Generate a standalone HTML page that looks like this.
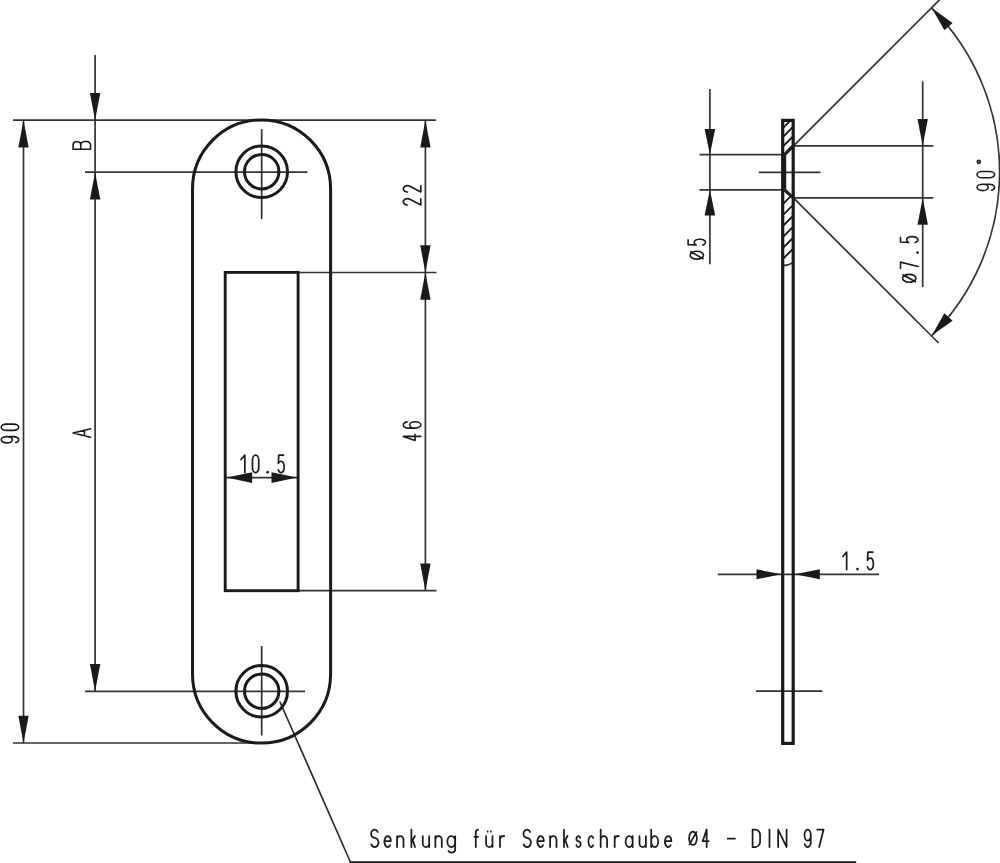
<!DOCTYPE html>
<html><head><meta charset="utf-8"><title>Drawing</title>
<style>html,body{margin:0;padding:0;background:#fff;font-family:"Liberation Sans",sans-serif}svg{display:block}</style>
</head><body>
<svg width="1000" height="863" viewBox="0 0 1000 863">
<rect width="1000" height="863" fill="#fff"/>
<defs>
<clipPath id="hc"><path d="M782.7,120 H793.2 V145.8 L785.2,154.6 H782.7 Z M782.7,189.8 H785.2 L793.2,197.9 V263 L782.7,265.6 Z"/></clipPath>
</defs>
<!-- thin lines -->
<g fill="none" stroke="#333" stroke-width="1.7" stroke-linecap="butt">
<!-- extension lines front view -->
<path d="M13,120.2 H436"/>
<path d="M85,172.2 H307.5"/>
<path d="M261.7,129.1 V219"/>
<path d="M85,691.3 H305"/>
<path d="M261.7,646 V735.5"/>
<path d="M13,743 H252"/>
<path d="M298,272.5 H436.5"/>
<path d="M298,590.7 H436.5"/>
<!-- dim lines -->
<path d="M23.5,120.2 V743"/>
<path d="M95.1,55 V691.3"/>
<path d="M425.4,120.2 V590.7"/>
<path d="M226,477.6 H297.5"/>
<!-- leader -->
<path d="M279.8,701.5 L350.4,862" stroke="#2c2c2c"/>
<path d="M349.8,862.1 H856.2" stroke="#161616" stroke-width="1.9"/>
<!-- side view -->
<path d="M758.8,172.3 H820.5"/>
<path d="M756,691.2 H822.5"/>
<path d="M699.5,154.6 H783"/>
<path d="M699.5,189.8 H783"/>
<path d="M709.9,89 V264.2"/>
<path d="M793.5,145.8 H933.3"/>
<path d="M793.5,197.9 H933.3"/>
<path d="M922.7,81.3 V287"/>
<path d="M793.5,145.8 L940,-0.7"/>
<path d="M793.5,197.9 L938.6,343"/>
<path d="M931.77,8.03 A231.6,231.6 0 0 1 931.77,335.57"/>
<path d="M717.8,574.3 H879"/>
<path d="M782.7,265.6 Q788,265.4 793.2,262.8" stroke-width="1.8"/>
</g>
<!-- hatch -->
<g clip-path="url(#hc)" fill="none" stroke="#1a1a1a" stroke-width="1.9"><path d="M781,130 L795,116M781,138.9 L795,124.9M781,148.3 L795,134.3M781,206 L795,192M781,217 L795,203M781,227.9 L795,213.9M781,238.9 L795,224.9M781,249.8 L795,235.8M781,260.8 L795,246.8"/></g>
<!-- thick outlines -->
<g fill="none" stroke="#1a1a1a" stroke-width="3" stroke-linejoin="round">
<rect x="192.5" y="119.9" width="138.1" height="623.2" rx="69.05" ry="69.05"/>
<rect x="225.2" y="272.4" width="72.9" height="318.3" stroke-linejoin="miter" stroke-width="2.9"/>
<circle cx="261.7" cy="171.7" r="25.8"/>
<circle cx="261.7" cy="171.7" r="17.2"/>
<circle cx="261.7" cy="691.2" r="25.8"/>
<circle cx="261.7" cy="691.2" r="17.2"/>
<!-- side view -->
<path d="M782.7,120.4 H793.2 V743.3 H782.7 Z" stroke-linejoin="miter" stroke-width="3.2"/>
<path d="M793.2,145.8 L784.5,154.6 M793.2,197.9 L784.5,189.8" stroke-width="3.2"/>
<path d="M784.2,154.6 V189.8" stroke-width="4"/>
</g>
<g fill="#1a1a1a" stroke="none">
<polygon points="95.1,120.2 89.9,92.9 100.3,92.9"/>
<polygon points="95.1,172.2 100.3,199.5 89.9,199.5"/>
<polygon points="95.1,691.3 89.9,664 100.3,664"/>
<polygon points="23.5,120.2 28.7,147.5 18.3,147.5"/>
<polygon points="23.5,743 18.3,715.7 28.7,715.7"/>
<polygon points="425.4,120.2 430.6,147.5 420.2,147.5"/>
<polygon points="425.4,272.5 420.2,245.2 430.6,245.2"/>
<polygon points="425.4,272.5 430.6,299.8 420.2,299.8"/>
<polygon points="425.4,590.7 420.2,563.4 430.6,563.4"/>
<polygon points="226.6,477.6 252.1,472.3 252.1,482.9"/>
<polygon points="297,477.6 271.5,482.9 271.5,472.3"/>
<polygon points="709.9,154.6 704.6,129 715.2,129"/>
<polygon points="709.9,189.8 715.2,215.4 704.6,215.4"/>
<polygon points="922.7,145.8 917.5,119 927.9,119"/>
<polygon points="922.7,197.9 927.9,224.7 917.5,224.7"/>
<polygon points="781.5,574.3 756.5,579.3 756.5,569.3"/>
<polygon points="794.8,574.3 819.8,569.3 819.8,579.3"/>
<polygon points="931.77,8.03 952.56,22.97 944.37,30.31"/>
<polygon points="931.77,335.57 944.37,313.29 952.56,320.63"/>
</g>
<g fill="none" stroke="#1a1a1a" stroke-width="1.75" stroke-linecap="round" stroke-linejoin="round">
<path transform="translate(370.98,847.02) scale(1,-1)" d="M6.77,15.02C6.21,16.49 5.02,17.45 3.7,17.5C2.38,17.55 1.15,16.67 0.52,15.24C-0.11,13.81 -0.03,12.07 0.73,10.73C2.03,8.73 5.02,9.46 6.62,7.56C7.56,6.19 7.76,4.28 7.15,2.66C6.53,1.04 5.21,0 3.75,0C2.29,0 0.97,1.04 0.35,2.66"/>
<path transform="translate(384.48,847.02) scale(1,-1)" d="M0,5.9L6.4,5.9C6.32,8.43 5.15,10.59 3.63,10.95C2.11,11.31 0.65,9.75 0.17,7.25C-0.32,4.74 0.3,1.99 1.64,0.7C2.98,-0.59 4.66,-0.06 5.65,1.96"/>
<path transform="translate(397.07,847.02) scale(1,-1)" d="M0,0L0,11M0,7.4C0,9.39 1.43,11 3.2,11C4.97,11 6.4,9.39 6.4,7.4L6.4,0"/>
<path transform="translate(411.38,847.02) scale(1,-1)" d="M0,0L0,17.5M0,4.4L3.5,11M1.4,6.6L3.7,0"/>
<path transform="translate(422.77,847.02) scale(1,-1)" d="M0,11L0,3.6C0,1.61 1.43,0 3.2,0C4.97,0 6.4,1.61 6.4,3.6M6.4,11L6.4,0"/>
<path transform="translate(435.38,847.02) scale(1,-1)" d="M0,0L0,11M0,7.4C0,9.39 1.43,11 3.2,11C4.97,11 6.4,9.39 6.4,7.4L6.4,0"/>
<path transform="translate(447.38,847.02) scale(1,-1)" d="M7.8,5.5C7.8,8.54 6.05,11 3.9,11C1.75,11 0,8.54 0,5.5C0,2.46 1.75,0 3.9,0C6.05,0 7.8,2.46 7.8,5.5ZM7.8,11L7.8,-2.4C7.8,-3.8 6.71,-5.03 5.13,-5.39C3.56,-5.76 1.9,-5.17 1.08,-3.95"/>
<path transform="translate(474.48,847.02) scale(1,-1)" d="M1.3,0L1.3,14.7C1.3,16.06 2.28,17.22 3.61,17.46M0,10.2L3.7,10.2"/>
<path transform="translate(486.07,847.02) scale(1,-1)" d="M0,11L0,3.6C0,1.61 1.43,0 3.2,0C4.97,0 6.4,1.61 6.4,3.6M6.4,11L6.4,0M1.6,15.3L1.6,15.6M4.8,15.3L4.8,15.6"/>
<path transform="translate(499.98,847.02) scale(1,-1)" d="M0,0L0,11M0,7.4C0,8.52 0.49,9.57 1.33,10.26C2.17,10.94 3.26,11.17 4.28,10.88"/>
<path transform="translate(523.38,847.02) scale(1,-1)" d="M6.77,15.02C6.21,16.49 5.02,17.45 3.7,17.5C2.38,17.55 1.15,16.67 0.52,15.24C-0.11,13.81 -0.03,12.07 0.73,10.73C2.03,8.73 5.02,9.46 6.62,7.56C7.56,6.19 7.76,4.28 7.15,2.66C6.53,1.04 5.21,0 3.75,0C2.29,0 0.97,1.04 0.35,2.66"/>
<path transform="translate(537.38,847.02) scale(1,-1)" d="M0,5.9L6.4,5.9C6.32,8.43 5.15,10.59 3.63,10.95C2.11,11.31 0.65,9.75 0.17,7.25C-0.32,4.74 0.3,1.99 1.64,0.7C2.98,-0.59 4.66,-0.06 5.65,1.96"/>
<path transform="translate(550.08,847.02) scale(1,-1)" d="M0,0L0,11M0,7.4C0,9.39 1.43,11 3.2,11C4.97,11 6.4,9.39 6.4,7.4L6.4,0"/>
<path transform="translate(563.98,847.02) scale(1,-1)" d="M0,0L0,17.5M0,4.4L3.5,11M1.4,6.6L3.7,0"/>
<path transform="translate(576.27,847.02) scale(1,-1)" d="M3.98,9.19C3.71,10.19 3.05,10.9 2.27,10.99C1.5,11.08 0.76,10.55 0.37,9.62C-0.02,8.7 0.02,7.55 0.46,6.67C1.26,5.47 2.99,5.78 3.89,4.68C4.45,3.81 4.56,2.59 4.17,1.57C3.77,0.55 2.95,-0.06 2.07,0C1.2,0.07 0.43,0.81 0.13,1.88"/>
<path transform="translate(588.38,847.02) scale(1,-1)" d="M4.88,9.18C4.11,10.87 2.88,11.45 1.8,10.63C0.71,9.82 0,7.78 0,5.5C0,3.22 0.71,1.18 1.8,0.37C2.88,-0.45 4.11,0.13 4.88,1.82"/>
<path transform="translate(600.67,847.02) scale(1,-1)" d="M0,0L0,17.5M0,7.4C0,9.39 1.43,11 3.2,11C4.97,11 6.4,9.39 6.4,7.4L6.4,0"/>
<path transform="translate(614.67,847.02) scale(1,-1)" d="M0,0L0,11M0,7.4C0,8.52 0.49,9.57 1.33,10.26C2.17,10.94 3.26,11.17 4.28,10.88"/>
<path transform="translate(625.67,847.02) scale(1,-1)" d="M7,5.5C7,8.54 5.43,11 3.5,11C1.57,11 0,8.54 0,5.5C0,2.46 1.57,0 3.5,0C5.43,0 7,2.46 7,5.5ZM7,11L7,0"/>
<path transform="translate(639.48,847.02) scale(1,-1)" d="M0,11L0,3.6C0,1.61 1.43,0 3.2,0C4.97,0 6.4,1.61 6.4,3.6M6.4,11L6.4,0"/>
<path transform="translate(651.17,847.02) scale(1,-1)" d="M0,5.5C0,8.54 1.57,11 3.5,11C5.43,11 7,8.54 7,5.5C7,2.46 5.43,0 3.5,0C1.57,0 0,2.46 0,5.5ZM0,17.5L0,0"/>
<path transform="translate(664.98,847.02) scale(1,-1)" d="M0,5.9L6.4,5.9C6.32,8.43 5.15,10.59 3.63,10.95C2.11,11.31 0.65,9.75 0.17,7.25C-0.32,4.74 0.3,1.99 1.64,0.7C2.98,-0.59 4.66,-0.06 5.65,1.96"/>
<path transform="translate(689.08,847.02) scale(1,-1)" d="M7.8,8.75C7.8,12.45 6.05,15.45 3.9,15.45C1.75,15.45 0,12.45 0,8.75C0,5.05 1.75,2.05 3.9,2.05C6.05,2.05 7.8,5.05 7.8,8.75ZM0.4,2.6L7.4,14.9"/>
<path transform="translate(702.67,847.02) scale(1,-1)" d="M6,5.8L0,5.8L4,17.5L4,0"/>
<path transform="translate(727.67,847.02) scale(1,-1)" d="M0,8.3L7.2,8.3"/>
<path transform="translate(752.58,847.02) scale(1,-1)" d="M0,0L0,17.5L2.6,17.5C5.31,17.5 7.5,15.17 7.5,12.3L7.5,5.2C7.5,2.33 5.31,0 2.6,0L0,0"/>
<path transform="translate(769.48,847.02) scale(1,-1)" d="M0,0L0,17.5"/>
<path transform="translate(778.17,847.02) scale(1,-1)" d="M0,0L0,17.5L8.4,0L8.4,17.5"/>
<path transform="translate(804.48,847.02) scale(1,-1)" d="M6.3,11.9C6.3,14.99 4.89,17.5 3.15,17.5C1.41,17.5 0,14.99 0,11.9C0,8.81 1.41,6.3 3.15,6.3C4.89,6.3 6.3,8.81 6.3,11.9ZM6.3,11.9L6.3,5C6.3,2.66 5.27,0.63 3.83,0.12C2.39,-0.39 0.92,0.76 0.3,2.89"/>
<path transform="translate(817.27,847.02) scale(1,-1)" d="M0,17.5L6.3,17.5L1.9,0"/>
</g>
<g fill="none" stroke="#1a1a1a" stroke-width="1.7" stroke-linecap="round" stroke-linejoin="round">
<path transform="translate(241.05,472.65) scale(1,-1)" d="M0,13.1L3.8,17.5L3.8,0"/>
<path transform="translate(252.45,472.65) scale(1,-1)" d="M0,5.2L0,12.3C0,15.17 1.41,17.5 3.15,17.5C4.89,17.5 6.3,15.17 6.3,12.3L6.3,5.2C6.3,2.33 4.89,0 3.15,0C1.41,0 0,2.33 0,5.2Z"/>
<circle cx="267.6" cy="472.15" r="1.35" fill="#1a1a1a" stroke="none"/>
<path transform="translate(277.85,472.65) scale(1,-1)" d="M5.7,17.5L0.9,17.5L0.5,9.3C0.9,10.6 2,11.4 3.15,11.4C4.68,11.4 5.99,9.41 6.25,6.69C6.52,3.97 5.66,1.29 4.23,0.34C2.79,-0.6 1.19,0.45 0.42,2.85"/>
<path transform="translate(842.85,569.55) scale(1,-1)" d="M0,13.1L3.8,17.5L3.8,0"/>
<circle cx="857.5" cy="569.05" r="1.35" fill="#1a1a1a" stroke="none"/>
<path transform="translate(867.05,569.55) scale(1,-1)" d="M5.7,17.5L0.9,17.5L0.5,9.3C0.9,10.6 2,11.4 3.15,11.4C4.68,11.4 5.99,9.41 6.25,6.69C6.52,3.97 5.66,1.29 4.23,0.34C2.79,-0.6 1.19,0.45 0.42,2.85"/>
</g>
<g fill="none" stroke="#1a1a1a" stroke-width="1.6" stroke-linecap="round" stroke-linejoin="round">
<path transform="translate(18.7,442.9) rotate(-90) scale(1,-1)" d="M6.3,11.9C6.3,14.99 4.89,17.5 3.15,17.5C1.41,17.5 0,14.99 0,11.9C0,8.81 1.41,6.3 3.15,6.3C4.89,6.3 6.3,8.81 6.3,11.9ZM6.3,11.9L6.3,5C6.3,2.66 5.27,0.63 3.83,0.12C2.39,-0.39 0.92,0.76 0.3,2.89"/>
<path transform="translate(18.7,430.4) rotate(-90) scale(1,-1)" d="M0,5.2L0,12.3C0,15.17 1.41,17.5 3.15,17.5C4.89,17.5 6.3,15.17 6.3,12.3L6.3,5.2C6.3,2.33 4.89,0 3.15,0C1.41,0 0,2.33 0,5.2Z"/>
<path transform="translate(90.6,437.2) rotate(-90) scale(1,-1)" d="M0,0L4.25,17.5L8.5,0M1.5,6.15L7,6.15"/>
<path transform="translate(90.6,149.2) rotate(-90) scale(1,-1)" d="M0,0L0,17.5L4.2,17.5C5.97,17.5 7.4,16.07 7.4,14.3L7.4,13.05C7.4,11.28 5.97,9.85 4.2,9.85L0,9.85M4.2,9.85L4,9.85C6.04,9.85 7.7,8.19 7.7,6.15L7.7,3.7C7.7,1.66 6.04,0 4,0L0,0"/>
<path transform="translate(420.85,205) rotate(-90) scale(1,-1)" d="M0,13.45C0.05,15.24 0.94,16.79 2.23,17.32C3.51,17.84 4.91,17.22 5.7,15.77C6.49,14.32 6.5,12.36 5.73,10.89L0,0L6.3,0"/>
<path transform="translate(420.85,192) rotate(-90) scale(1,-1)" d="M0,13.45C0.05,15.24 0.94,16.79 2.23,17.32C3.51,17.84 4.91,17.22 5.7,15.77C6.49,14.32 6.5,12.36 5.73,10.89L0,0L6.3,0"/>
<path transform="translate(420.85,440.4) rotate(-90) scale(1,-1)" d="M6,5.8L0,5.8L4,17.5L4,0"/>
<path transform="translate(420.85,428.1) rotate(-90) scale(1,-1)" d="M0,5.6C0,8.69 1.41,11.2 3.15,11.2C4.89,11.2 6.3,8.69 6.3,5.6C6.3,2.51 4.89,0 3.15,0C1.41,0 0,2.51 0,5.6ZM0,5.6L0,12.5C0,15.01 1.17,17.13 2.74,17.46C4.31,17.78 5.78,16.22 6.19,13.79"/>
<path transform="translate(705.6,259.1) rotate(-90) scale(1,-1)" d="M7.8,8.75C7.8,12.45 6.05,15.45 3.9,15.45C1.75,15.45 0,12.45 0,8.75C0,5.05 1.75,2.05 3.9,2.05C6.05,2.05 7.8,5.05 7.8,8.75ZM0.4,2.6L7.4,14.9"/>
<path transform="translate(705.6,245.5) rotate(-90) scale(1,-1)" d="M5.7,17.5L0.9,17.5L0.5,9.3C0.9,10.6 2,11.4 3.15,11.4C4.68,11.4 5.99,9.41 6.25,6.69C6.52,3.97 5.66,1.29 4.23,0.34C2.79,-0.6 1.19,0.45 0.42,2.85"/>
<path transform="translate(918,282.2) rotate(-90) scale(1,-1)" d="M7.8,8.75C7.8,12.45 6.05,15.45 3.9,15.45C1.75,15.45 0,12.45 0,8.75C0,5.05 1.75,2.05 3.9,2.05C6.05,2.05 7.8,5.05 7.8,8.75ZM0.4,2.6L7.4,14.9"/>
<path transform="translate(918,268.4) rotate(-90) scale(1,-1)" d="M0,17.5L6.3,17.5L1.9,0"/>
<circle cx="917.5" cy="252.6" r="1.35" fill="#1a1a1a" stroke="none"/>
<path transform="translate(918,242.9) rotate(-90) scale(1,-1)" d="M5.7,17.5L0.9,17.5L0.5,9.3C0.9,10.6 2,11.4 3.15,11.4C4.68,11.4 5.99,9.41 6.25,6.69C6.52,3.97 5.66,1.29 4.23,0.34C2.79,-0.6 1.19,0.45 0.42,2.85"/>
<path transform="translate(994.6,190.6) rotate(-90) scale(1,-1)" d="M6.3,11.9C6.3,14.99 4.89,17.5 3.15,17.5C1.41,17.5 0,14.99 0,11.9C0,8.81 1.41,6.3 3.15,6.3C4.89,6.3 6.3,8.81 6.3,11.9ZM6.3,11.9L6.3,5C6.3,2.66 5.27,0.63 3.83,0.12C2.39,-0.39 0.92,0.76 0.3,2.89"/>
<path transform="translate(994.6,177.8) rotate(-90) scale(1,-1)" d="M0,5.2L0,12.3C0,15.17 1.41,17.5 3.15,17.5C4.89,17.5 6.3,15.17 6.3,12.3L6.3,5.2C6.3,2.33 4.89,0 3.15,0C1.41,0 0,2.33 0,5.2Z"/>
<circle cx="978.8" cy="161.8" r="1.5" fill="none" stroke-width="1.7"/>
</g>
</svg>
</body></html>
